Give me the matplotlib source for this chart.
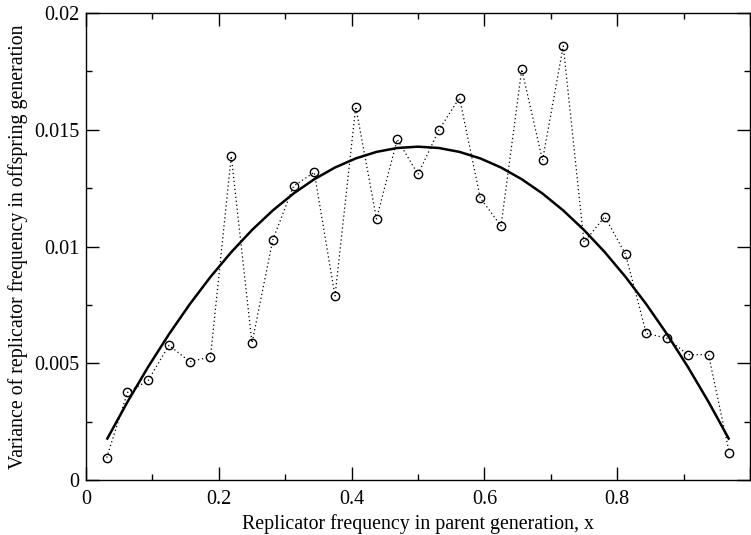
import numpy as np
import matplotlib
matplotlib.use("Agg")
import matplotlib.pyplot as plt
from matplotlib.ticker import MultipleLocator, FuncFormatter

plt.rcParams['font.family'] = ['Liberation Serif', 'DejaVu Serif']

# x = k/32, k = 1..31
x = np.arange(1, 32) / 32.0
var_obs = [0.00096, 0.00375, 0.00427, 0.00577, 0.00507, 0.00527, 0.01388, 0.00587,
           0.01028, 0.01258, 0.01318, 0.00788, 0.01599, 0.01118, 0.01459, 0.01309,
           0.01498, 0.01637, 0.01208, 0.01088, 0.01759, 0.01369, 0.01859, 0.01018,
           0.01128, 0.00967, 0.00628, 0.00607, 0.00537, 0.00537, 0.00117]
# smooth curve read at the same x positions
var_curve = [0.001729, 0.003346, 0.004851, 0.006245, 0.007528, 0.008699, 0.009758,
             0.010706, 0.011543, 0.012268, 0.012881, 0.013383, 0.013773, 0.014052,
             0.014219, 0.014275, 0.014219, 0.014052, 0.013773, 0.013383, 0.012881,
             0.012268, 0.011543, 0.010706, 0.009758, 0.008699, 0.007528, 0.006245,
             0.004851, 0.003346, 0.001729]

fig = plt.figure(figsize=(7.51, 5.35), dpi=100)
ax = fig.add_axes([0.1145, 0.1028, 0.8842, 0.8729])

ax.plot(x, var_curve, color='black', lw=1.8, solid_capstyle='butt')
ax.plot(x, var_obs, color='black', lw=0.9, ls=(0, (1, 2.2)),
        marker='o', ms=6, mfc='none', mec='black', mew=1.0)

ax.set_xlim(0, 1)
ax.set_ylim(0, 0.02)
ax.xaxis.set_major_locator(MultipleLocator(0.2))
ax.xaxis.set_minor_locator(MultipleLocator(0.1))
ax.yaxis.set_major_locator(MultipleLocator(0.005))
ax.yaxis.set_minor_locator(MultipleLocator(0.0025))

def fmt_x(v, p):
    if abs(v) < 1e-9:
        return '0'
    if v > 0.99:
        return ''
    return '%g' % round(v, 3)

ax.xaxis.set_major_formatter(FuncFormatter(fmt_x))
ax.yaxis.set_major_formatter(FuncFormatter(lambda v, p: '0' if abs(v) < 1e-12 else ('%g' % round(v, 4))))
ax.tick_params(which='both', direction='in', top=True, right=True, width=1.0,
               labelsize=14.5)
ax.tick_params(which='major', length=9.5, pad=5)
ax.tick_params(axis='x', which='major', pad=7)
ax.tick_params(which='minor', length=4.5)
for s in ax.spines.values():
    s.set_linewidth(1.0)

ax.set_xlabel('Replicator frequency in parent generation, x', fontsize=14.3, labelpad=4)
ax.set_ylabel('Variance of replicator frequency in offspring generation', fontsize=14.3, labelpad=4)

fig.savefig('out.png', dpi=100)
